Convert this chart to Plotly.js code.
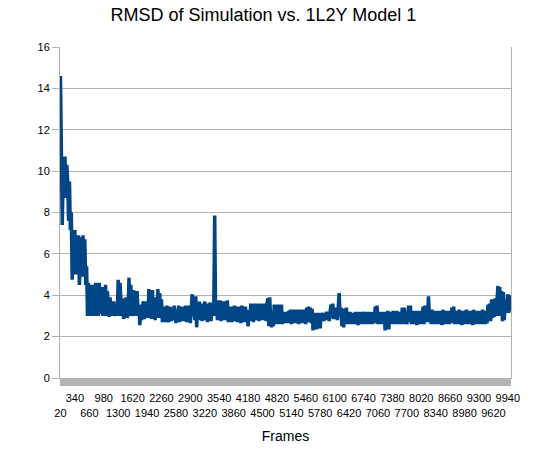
<!DOCTYPE html>
<html><head><meta charset="utf-8">
<script src="https://cdn.plot.ly/plotly-3.0.1.min.js"></script>
<style>html,body{margin:0;padding:0;background:#fff}#chart{width:537px;height:457px}</style>
</head><body><div id="chart"></div>
<script>
// Frames are sampled every 20 steps, starting at frame 20
const FRAME_FIRST = 20;
const FRAME_STEP = 20;

const rmsd = [
  14.6, 11.0, 7.4, 10.0, 8.8, 10.7, 8.7, 10.3, 9.6, 7.6,
  9.5, 7.15, 8.0, 4.75, 7.1, 5.2, 7.15, 5.0, 6.6, 5.3,
  6.9, 4.5, 5.8, 6.8, 4.9, 6.9, 5.2, 6.7, 4.5, 5.4,
  3.0, 4.6, 3.1, 4.2, 3.0, 4.5, 3.3, 4.1, 3.0, 4.6,
  3.2, 4.0, 3.0, 4.6, 3.5, 3.1, 4.4, 3.0, 4.0, 3.2,
  4.5, 3.0, 4.2, 3.3, 2.95, 3.9, 3.1, 3.7, 3.0, 3.7,
  3.2, 3.0, 3.6, 3.1, 4.75, 3.0, 4.6, 3.3, 3.0, 3.85,
  2.85, 3.6, 3.0, 3.9, 2.9, 3.3, 4.85, 3.0, 4.5, 3.2,
  3.0, 4.25, 3.1, 3.9, 3.0, 4.2, 3.2, 3.55, 2.55, 3.3,
  2.8, 3.5, 3.7, 2.85, 3.4, 3.0, 3.7, 2.9, 4.3, 3.0,
  3.9, 2.85, 4.25, 3.1, 3.9, 2.8, 3.6, 3.0, 4.3, 2.9,
  4.1, 3.0, 3.8, 2.7, 3.45, 2.9, 3.3, 2.7, 3.5, 3.0,
  2.7, 3.45, 3.1, 2.75, 3.4, 2.8, 3.5, 2.9, 2.65, 3.3,
  3.0, 3.5, 2.7, 3.2, 2.9, 3.45, 2.75, 3.3, 3.0, 3.5,
  2.7, 3.4, 2.9, 3.5, 2.65, 3.3, 4.05, 3.0, 3.6, 2.8,
  3.95, 2.45, 3.4, 3.0, 3.7, 2.8, 3.6, 2.75, 3.55, 3.0,
  3.7, 2.8, 3.4, 2.7, 3.6, 3.0, 3.65, 2.75, 3.3, 3.0,
  3.5, 7.85, 3.0, 3.75, 2.8, 3.6, 2.9, 3.75, 2.75, 3.4,
  3.0, 3.7, 2.8, 3.5, 2.9, 3.75, 2.7, 3.3, 3.0, 3.45,
  2.7, 3.4, 2.9, 3.5, 2.75, 3.3, 2.7, 3.45, 3.0, 3.4,
  2.65, 3.5, 2.9, 3.35, 2.7, 3.45, 3.0, 3.3, 2.5, 3.2,
  2.75, 3.6, 3.0, 3.5, 2.7, 3.6, 2.9, 3.55, 2.8, 3.6,
  2.75, 3.6, 3.0, 3.55, 2.8, 3.6, 2.9, 3.5, 2.75, 3.6,
  3.85, 2.5, 3.9, 2.9, 2.45, 3.05, 2.5, 3.55, 2.6, 3.5,
  2.7, 3.55, 2.6, 3.5, 2.8, 3.55, 2.6, 3.2, 2.65, 3.1,
  2.7, 3.2, 2.65, 3.25, 2.9, 3.3, 2.6, 3.25, 2.8, 3.3,
  2.65, 3.3, 2.75, 3.2, 2.6, 3.3, 2.9, 3.25, 2.65, 3.3,
  2.8, 3.25, 2.6, 3.4, 2.7, 3.45, 2.8, 3.4, 2.65, 3.35,
  2.3, 3.1, 2.5, 3.15, 2.35, 3.0, 2.6, 3.15, 2.4, 3.1,
  2.8, 3.15, 2.75, 3.1, 2.9, 3.2, 2.8, 3.1, 2.75, 3.2,
  3.55, 2.9, 3.6, 2.85, 3.35, 2.95, 3.4, 2.8, 3.3, 4.1,
  3.0, 3.4, 2.5, 3.35, 2.45, 3.3, 2.6, 3.4, 2.6, 3.15,
  2.65, 3.2, 2.6, 3.1, 2.75, 3.15, 2.6, 3.2, 2.7, 3.1,
  2.55, 3.2, 2.7, 3.15, 2.6, 3.2, 2.8, 3.1, 2.6, 3.2,
  2.7, 3.15, 2.6, 3.2, 2.75, 3.1, 2.6, 3.2, 2.7, 3.45,
  2.65, 3.5, 2.6, 3.2, 2.7, 3.15, 2.6, 3.2, 2.75, 3.1,
  2.3, 3.2, 2.5, 3.25, 2.35, 3.1, 2.6, 3.2, 2.6, 3.25,
  2.7, 3.2, 2.6, 3.25, 2.65, 3.15, 2.6, 3.2, 2.7, 3.4,
  2.6, 3.4, 2.7, 3.2, 2.6, 3.25, 3.5, 2.7, 3.5, 2.6,
  3.25, 2.6, 3.2, 2.7, 3.25, 2.55, 3.2, 2.65, 3.25, 2.6,
  3.2, 2.7, 3.45, 2.6, 3.5, 2.75, 3.4, 2.7, 3.95, 3.0,
  3.3, 2.6, 3.3, 2.7, 3.2, 2.6, 3.25, 2.65, 3.2, 2.6,
  3.25, 2.7, 3.2, 2.55, 3.3, 2.65, 3.2, 2.6, 3.25, 2.7,
  3.2, 2.6, 3.25, 2.7, 3.4, 2.65, 3.45, 2.6, 3.2, 2.7,
  3.25, 2.6, 3.3, 2.65, 3.2, 2.55, 3.25, 2.7, 3.2, 2.6,
  3.3, 2.65, 3.2, 2.6, 3.25, 2.7, 3.2, 2.55, 3.3, 2.6,
  3.25, 2.7, 3.2, 2.6, 3.25, 2.65, 3.2, 2.6, 3.3, 2.7,
  3.2, 2.6, 3.25, 2.65, 3.55, 2.8, 3.6, 2.75, 3.8, 2.9,
  3.8, 2.95, 3.85, 3.0, 3.7, 4.45, 3.0, 4.4, 3.1, 4.2,
  2.75, 4.15, 2.8, 3.6, 3.15, 3.55, 4.05, 3.15, 4.0, 3.2
];

// Labelled frames on the category axis
const frameTickLabels = [
  20, 340, 660, 980, 1300, 1620, 1940, 2260, 2580, 2900, 3220, 3540, 3860, 4180, 4500, 4820,
  5140, 5460, 5780, 6100, 6420, 6740, 7060, 7380, 7700, 8020, 8340, 8660, 8980, 9300, 9620, 9940
];

const frames = rmsd.map((_, i) => FRAME_FIRST + i * FRAME_STEP);
// staggered labels: even ones on the lower row
const tickText = frameTickLabels.map((t, k) => (k % 2 === 0 ? '\u00a0<br>' + t : String(t)));

const GRID = '#b3b3b3';

const data = [{
  type: 'scatter',
  mode: 'lines',
  x: frames,
  y: rmsd,
  line: { color: '#004586', width: 3.5 },
  hoverinfo: 'skip'
}];

const layout = {
  width: 537,
  height: 457,
  margin: { l: 60, r: 26, t: 47, b: 79, pad: 0 },
  paper_bgcolor: '#ffffff',
  plot_bgcolor: '#ffffff',
  font: { family: '"Liberation Sans", Arial, sans-serif', size: 11, color: '#000000' },
  showlegend: false,
  hovermode: false,
  title: {
    text: 'RMSD of Simulation vs. 1L2Y Model 1',
    font: { size: 18, color: '#000000' },
    xref: 'container', x: 0.4905, xanchor: 'center',
    yref: 'container', y: 1 - 8 / 457, yanchor: 'top'
  },
  xaxis: {
    type: 'linear',
    range: [FRAME_FIRST - FRAME_STEP / 2, frames[frames.length - 1] + FRAME_STEP / 2],
    tickmode: 'array',
    tickvals: frameTickLabels,
    ticktext: tickText,
    tickangle: 0,
    ticklabelstandoff: 3,
    ticks: 'outside', ticklen: 7, tickwidth: 1, tickcolor: GRID,
    minor: { tick0: FRAME_FIRST, dtick: FRAME_STEP, ticks: 'outside', ticklen: 7, tickwidth: 1, tickcolor: GRID, showgrid: false },
    showgrid: false, zeroline: false,
    showline: true, linecolor: GRID, linewidth: 1,
    tickfont: { size: 11, color: '#000000' },
    title: { text: 'Frames', font: { size: 14, color: '#000000' }, standoff: 13 }
  },
  yaxis: {
    range: [0, 16], tick0: 0, dtick: 2,
    ticks: 'outside', ticklen: 7, tickwidth: 1, tickcolor: GRID,
    showgrid: true, gridcolor: GRID, gridwidth: 1,
    zeroline: false, showline: true, linecolor: GRID, linewidth: 1, mirror: true,
    tickfont: { size: 11, color: '#000000' }
  }
};

Plotly.newPlot('chart', data, layout, { displayModeBar: false, staticPlot: true });
</script>
</body></html>
